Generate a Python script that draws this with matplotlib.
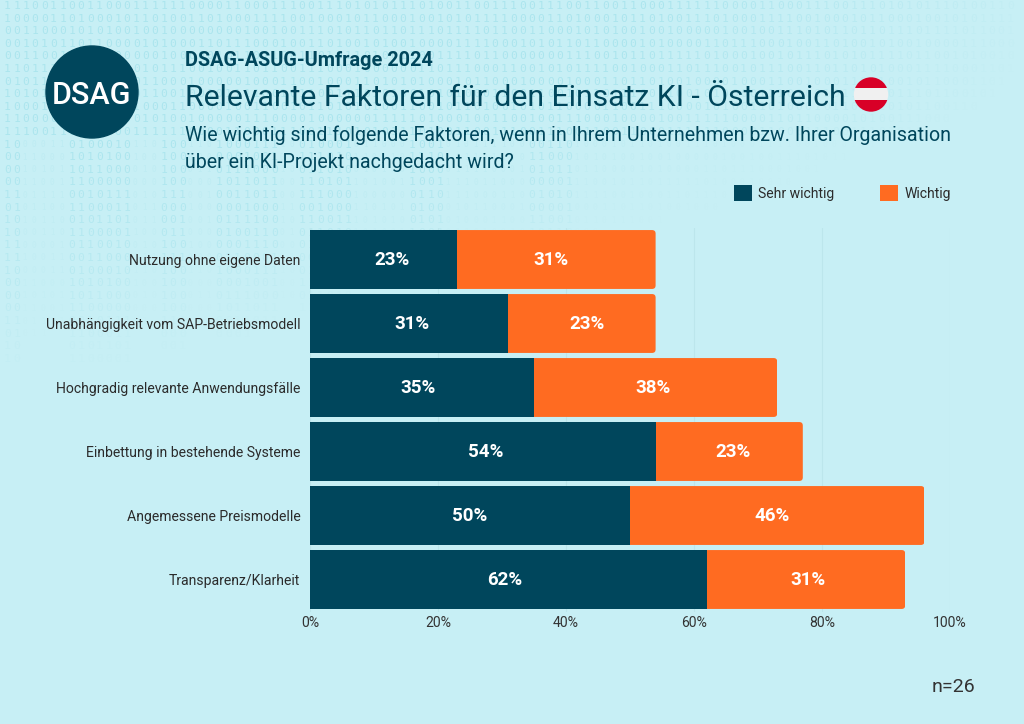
import matplotlib
matplotlib.use("Agg")
import matplotlib.pyplot as plt
from matplotlib.patches import Circle, FancyBboxPatch, Rectangle
import numpy as np

plt.rcParams['font.family'] = ['Roboto', 'DejaVu Sans']

categories = ["Nutzung ohne eigene Daten", "Unabhängigkeit vom SAP-Betriebsmodell",
              "Hochgradig relevante Anwendungsfälle", "Einbettung in bestehende Systeme",
              "Angemessene Preismodelle", "Transparenz/Klarheit"]
sehr_wichtig = [23, 31, 35, 54, 50, 62]
wichtig = [31, 23, 38, 23, 46, 31]
x_ticks = [0, 20, 40, 60, 80, 100]

# digits of the background texture, read row by row
binary_rows = [
    "111001100110001111110000110001110011101010111010011001110011100110011000111111000011000111001110101011101001100111",
    "100001101000101101001101000111100100010110001001010111100001101000101101001110100011110010001011000100101011110010",
    "001100010101001001000000001001001110101101101110111101100110001010100100100000100100111010110110111011110110011000",
    "001010110110000101000110111000100110100101001000011110001010110110000101000011011100010011010010100100001110001011",
    "001100111000000001000001011011001101011010011001111011000000011100101101111101000100101110101011110110010100101101",
    "110111100101110101110010011011001110001000000110111000110010101111001000110111001011100110110101000111100011011001",
    "010110011000110110001000001000110010001101010100010110001000010001101101001000010001100100011001001011000110100010",
    "101011001011010110010010111100101100111010100101010001100110010110111001100101000011101001011001011101100101011100",
    "100011011000011000110000100110010110101010011001011010010101100001100111000010100110100010110011010110011001010011",
    "110000101100100101001000001110000100000011111010001001100100111000100001001111100001101100001010011100001001100110",
]
row_step = 12.6
char_step = 9.2
# x ranges where the digits stay large in the fading lower part
bands = [(0, 18), (63, 124), (155, 182), (210, 272), (292, 345), (400, 440), (520, 570)]

bg = "#C7EFF5"
dark = "#00465C"
orange = "#FF6B21"

fig = plt.figure(figsize=(10.24, 7.24), dpi=100, facecolor=bg)

# pixel-coordinate layer for the texture and the header
deco = fig.add_axes([0, 0, 1, 1], zorder=0)
deco.set_xlim(0, 1024)
deco.set_ylim(724, 0)
deco.axis('off')

for r in range(29):
    y = 6 + r * row_step
    line = binary_rows[r % len(binary_rows)]
    limit = np.interp(y, [0, 100, 200, 300, 370], [1080, 1000, 800, 400, 180])
    for c, ch in enumerate(line):
        x = 4 + c * char_step
        if x > 1015:
            continue
        a = np.clip((limit - x) / 420, 0, 1) * 0.9
        size = 8.2
        if y > 140:
            in_band = any(b0 <= x <= b1 for b0, b1 in bands)
            fade = np.clip((370 - y) / 230, 0, 1)
            if in_band:
                a = a * (0.2 + 0.8 * fade)
            else:
                a = a * 0.35 * fade
                size = 5.5
        if a < 0.03:
            continue
        deco.text(x, y, ch, family='DejaVu Sans Mono', fontsize=size, color="#A8E4ED",
                  alpha=float(a), ha='left', va='center', zorder=1)

# logo
deco.add_patch(Circle((92, 92), 46, color=dark, zorder=3))
deco.text(92, 92, "DSAG", color="white", fontsize=22, fontweight='medium', ha='center', va='center_baseline', zorder=4)

# header
deco.text(185, 60, "DSAG-ASUG-Umfrage 2024", color=dark, fontsize=14.3, fontweight='bold', va='center', zorder=4)
deco.text(185, 98, "Relevante Faktoren für den Einsatz KI - Österreich", color=dark, fontsize=21.7, va='center', zorder=4)
deco.text(185, 135, "Wie wichtig sind folgende Faktoren, wenn in Ihrem Unternehmen bzw. Ihrer Organisation",
          color=dark, fontsize=14.1, va='center', zorder=4)
deco.text(185, 162, "über ein KI-Projekt nachgedacht wird?", color=dark, fontsize=14.1, va='center', zorder=4)

# flag
flag = Circle((871, 94.5), 17.2, transform=deco.transData, facecolor='none', edgecolor='none')
deco.add_patch(flag)
for y0, h, col in [(77, 11, "#D80027"), (88, 12, "#F0F0F0"), (100, 12, "#D80027")]:
    stripe = Rectangle((853, y0), 36, h, facecolor=col, edgecolor='none', zorder=4)
    deco.add_patch(stripe)
    stripe.set_clip_path(flag)

deco.text(975, 687, "n=26", color="#333333", fontsize=14, ha='right', va='center', zorder=4)

# chart
ax = fig.add_axes([310 / 1024, 1 - 611.5 / 724, 640 / 1024, 384 / 724], zorder=2)
ax.patch.set_alpha(0)
y_pos = np.arange(len(categories))
b1 = ax.barh(y_pos, sehr_wichtig, height=0.92, color=dark, label="Sehr wichtig", zorder=3)
b2 = ax.barh(y_pos, wichtig, left=sehr_wichtig, height=0.92, color=orange, label="Wichtig", zorder=3)

# rounded right ends of the stacked bars
for rect, s, w in zip(b2, sehr_wichtig, wichtig):
    clip = FancyBboxPatch((-5, rect.get_y()), s + w + 5, rect.get_height(),
                          boxstyle="round,pad=0,rounding_size=0.55", mutation_aspect=0.1,
                          transform=ax.transData, facecolor='none', edgecolor='none')
    ax.add_patch(clip)
    rect.set_clip_path(clip)

# the labels in the reference sit a little off the segment centres (in percent points)
nudge_dark = [1.25, 0.45, -0.6, 0.45, 0, -0.65]
nudge_orange = [-0.8, 0.8, -0.45, 0.6, -0.8, 0.3]
for i, (s, w) in enumerate(zip(sehr_wichtig, wichtig)):
    ax.text(s / 2 + nudge_dark[i], i + 0.015, f"{s}%", color="white", fontsize=13.5, fontweight='bold',
            ha='center', va='center', zorder=4)
    ax.text(s + w / 2 + nudge_orange[i], i + 0.015, f"{w}%", color="white", fontsize=13.5, fontweight='bold',
            ha='center', va='center', zorder=4)

ax.set_xlim(0, 100)
ax.set_ylim(len(categories) - 0.5, -0.5)
ax.set_yticks(y_pos)
ax.set_yticklabels(categories, fontsize=10.1, color="#2B2B2B", va='center_baseline')
ax.set_xticks(x_ticks)
ax.set_xticklabels([f"{t}%" for t in x_ticks], fontsize=10.1, color="#333333")
ax.tick_params(axis='both', length=0)
ax.tick_params(axis='y', pad=7)
ax.tick_params(axis='x', pad=3.5)
ax.grid(axis='x', color="#BCE6EC", linewidth=0.8, zorder=0)
ax.set_axisbelow(True)
for sp in ax.spines.values():
    sp.set_visible(False)

fig.legend(handles=[b1, b2], loc='center left', bbox_to_anchor=(734 / 1024, 1 - 193 / 724), ncols=2,
           frameon=False, fontsize=10.1, handlelength=1.29, handleheight=1.29, handletextpad=0.42,
           columnspacing=3.28, borderaxespad=0, borderpad=0, labelcolor="#2B2B2B")

fig.savefig("out.png", dpi=100, facecolor=bg)
